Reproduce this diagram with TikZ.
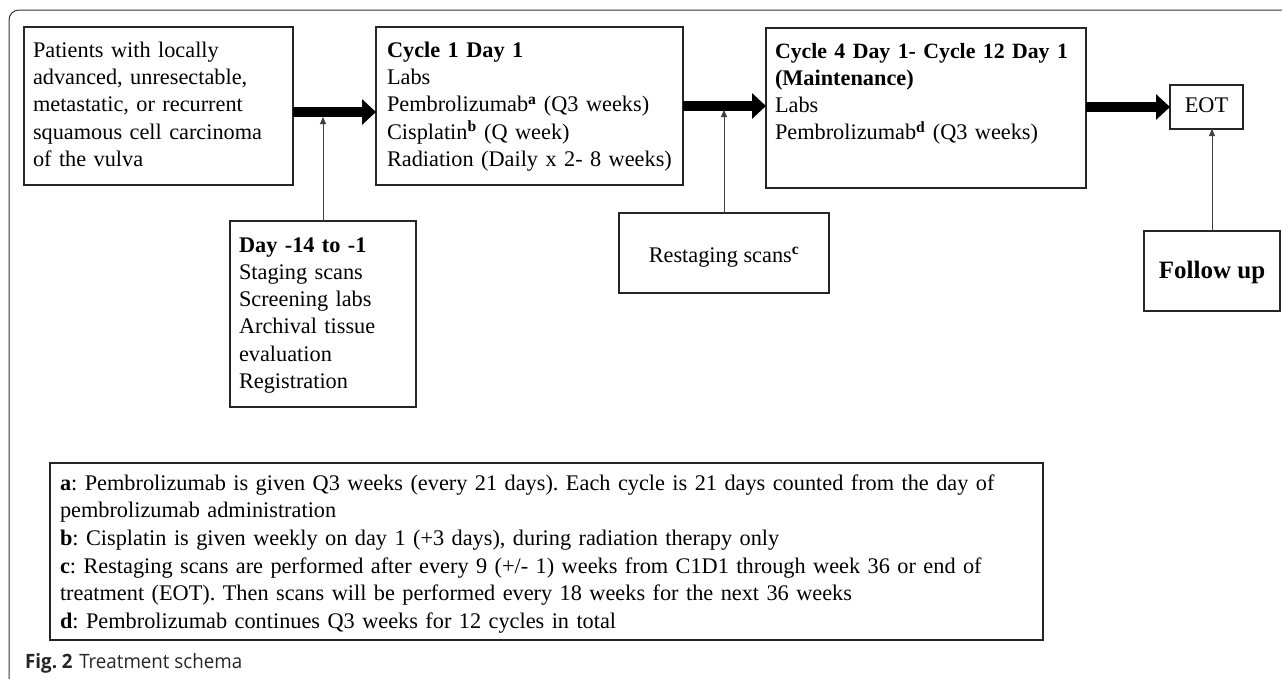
\documentclass[tikz,border=0pt]{standalone}
\usepackage{fontspec}
\usepackage{graphicx}
\setmainfont{Liberation Serif}
\newfontfamily\capfont{Open Sans}
\usetikzlibrary{arrows.meta}
\frenchspacing
\newcommand{\oneline}[1]{\mbox{#1}}
\begin{document}
\begin{tikzpicture}[x=1pt,y=-1pt,
  txt/.style={font=\fontsize{22.3}{27.3}\selectfont\frenchspacing},
  box/.style={txt, draw=black!85, line width=1.2pt, anchor=north west, inner xsep=9pt, inner ysep=0pt, outer sep=0pt, align=left},
  cbox/.style={txt, draw=black!85, line width=1.2pt, inner sep=0pt, outer sep=0pt, align=center},
  bigarrow/.style={line width=9.5pt, -{Triangle[width=25pt,length=14pt]}},
  thinarrow/.style={draw=black!75, line width=0.9pt, -{Triangle[width=6pt,length=7pt]}}
]
\useasboundingbox (0,0) rectangle (1282,678);
% outer frame
\draw[black!80, line width=1pt, rounded corners=10pt] (22,690) -- (9,690) -- (9,10) -- (1300,10);

% boxes
\node[box, text width=251pt, text height=30.3pt, text depth=127.7pt] (p) at (24,27)
  {\oneline{Patients with locally}\\\oneline{advanced, unresectable,}\\\oneline{metastatic, or recurrent}\\\oneline{squamous cell carcinoma}\\\oneline{of the vulva}};
\node[box, inner xsep=11pt, text width=285pt, text height=30.3pt, text depth=127.7pt] (c1) at (376,27)
  {\oneline{\textbf{Cycle 1 Day 1}}\\\oneline{Labs}\\\oneline{Pembrolizumab\textsuperscript{\textbf{a}} (Q3 weeks)}\\\oneline{Cisplatin\textsuperscript{\textbf{b}} (Q week)}\\\oneline{Radiation (Daily x 2- 8 weeks)}};
\node[box, text width=302pt, text height=30pt, text depth=130pt] (c4) at (766,28)
  {\oneline{\textbf{\fontsize{21.8}{27.3}\selectfont Cycle 4 Day 1- Cycle 12 Day 1}}\\\oneline{\textbf{(Maintenance)}}\\\oneline{Labs}\\\oneline{Pembrolizumab\textsuperscript{\textbf{d}} (Q3 weeks)}};
\node[cbox, minimum width=73pt, minimum height=44pt, text height=15pt, text depth=5pt] (eot) at (1206.5,107) {EOT};
\node[box, text width=168pt, text height=31pt, text depth=155pt] (d) at (230,221)
  {\oneline{\textbf{Day -14 to -1}}\\\oneline{Staging scans}\\\oneline{Screening labs}\\\oneline{Archival tissue}\\\oneline{evaluation}\\\oneline{Registration}};
\node[cbox, minimum width=210pt, minimum height=80pt, text height=18pt, text depth=0pt] (r) at (724,253)
  {Restaging scans\textsuperscript{\textbf{c}}};
\node[cbox, minimum width=136pt, minimum height=80pt, text height=16pt, text depth=2pt, font=\fontsize{25}{30}\selectfont\bfseries] (f) at (1212,271)
  {Follow up};
\node[box, inner xsep=10pt, text width=973pt, text height=27pt, text depth=150pt, font=\fontsize{22.3}{27.7}\selectfont\frenchspacing] (fn) at (50,463)
  {\oneline{\textbf{a}: Pembrolizumab is given Q3 weeks (every 21 days). Each cycle is 21 days counted from the day of}\\
   \oneline{pembrolizumab administration}\\
   \oneline{\textbf{b}: Cisplatin is given weekly on day 1 (+3 days), during radiation therapy only}\\
   \oneline{\textbf{c}: Restaging scans are performed after every 9 (+/- 1) weeks from C1D1 through week 36 or end of}\\
   \oneline{treatment (EOT). Then scans will be performed every 18 weeks for the next 36 weeks}\\
   \oneline{\textbf{d}: Pembrolizumab continues Q3 weeks for 12 cycles in total}};

% caption
\node[anchor=base west, inner sep=0pt] (cap) at (25,668)
  {\resizebox{217pt}{15pt}{\capfont\color{black!85}\textbf{Fig. 2}\hspace{0.35em}Treatment schema}};

% thick arrows
\draw[bigarrow] ([yshift=-6pt]p.east) -- ([yshift=-6pt]c1.west);
\draw[bigarrow] (c1.east) -- (c4.west |- c1.east);
\draw[bigarrow] (c4.east |- eot.west) -- (eot.west);

% thin arrows
\coordinate (j1) at (d.north |- 0,117);
\coordinate (j2) at (r.north |- 0,110);
\draw[thinarrow] (d.north) -- (j1);
\draw[thinarrow] (r.north) -- (j2);
\draw[thinarrow] (f.north) -- (f.north |- eot.south);
\end{tikzpicture}
\end{document}
